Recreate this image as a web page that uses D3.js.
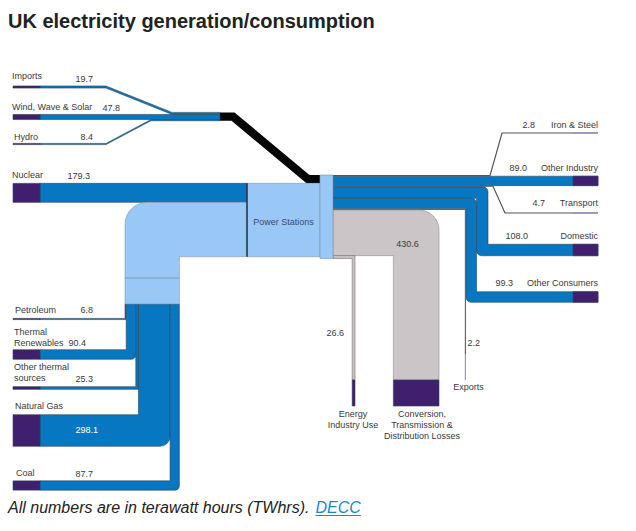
<!DOCTYPE html>
<html>
<head>
<meta charset="utf-8">
<script src="https://d3js.org/d3.v7.min.js"></script>
<style>
  body { margin: 0; background: #fff; }
  svg { display: block; }
</style>
</head>
<body>
<script>
// TWh figures
var sources = ["Imports", "Wind, Wave & Solar", "Hydro", "Nuclear", "Petroleum",
  "Thermal\nRenewables", "Other thermal\nsources", "Natural Gas", "Coal"];
var sourceValues = [19.7, 47.8, 8.4, 179.3, 6.8, 90.4, 25.3, 298.1, 87.7];

var uses = ["Iron & Steel", "Other Industry", "Transport", "Domestic", "Other Consumers",
  "Exports", "Conversion,\nTransmission &\nDistribution Losses", "Energy\nIndustry Use"];
var useValues = [2.8, 89.0, 4.7, 108.0, 99.3, 2.2, 430.6, 26.6];

var C = {
  blue: "#0877c1", purple: "#3f1f6e", lav: "#9c8ecf", light: "#99c8f6",
  grey: "#cbc5c8", edge: "#2f4456", black: "#050505", text: "#3a3a3a"
};

var svg = d3.select("body").append("svg")
  .attr("width", 636).attr("height", 531)
  .style("font-family", "'Liberation Sans', Arial, sans-serif");

// band thickness
var w = d3.scaleLinear().domain([0, 100]).range([0, 10.6]);
function bw(v) { return Math.max(1.2, w(v)); }

// polygon with optional rounded corners [x, y, r]
function roundPoly(pts) {
  var p = d3.path(), n = pts.length;
  p.moveTo((pts[0][0] + pts[1][0]) / 2, (pts[0][1] + pts[1][1]) / 2);
  for (var i = 1; i <= n; i++) {
    var a = pts[i % n], b = pts[(i + 1) % n];
    if (a[2]) p.arcTo(a[0], a[1], b[0], b[1], a[2]);
    else p.lineTo(a[0], a[1]);
  }
  p.closePath();
  return p.toString();
}
function shape(pts, fill, stroke) {
  return svg.append("path").attr("d", roundPoly(pts))
    .attr("fill", fill).attr("stroke", stroke || C.edge).attr("stroke-width", 0.6);
}
// band following a top polyline, thickness t downward
function hband(line, t) {
  var bot = line.map(function(d) { return [d[0], d[1] + t, 0]; }).reverse();
  return line.map(function(d) { return [d[0], d[1], 0]; }).concat(bot);
}
function rect(x0, y0, x1, y1, fill, stroke) {
  return shape([[x0, y0], [x1, y0], [x1, y1], [x0, y1]], fill, stroke);
}
function line(pts, color, width) {
  return svg.append("path").attr("d", d3.line()(pts)).attr("fill", "none")
    .attr("stroke", color).attr("stroke-width", width).attr("stroke-linejoin", "miter");
}
function label(x, y, txt, anchor, color, size) {
  var t = svg.append("text").attr("x", x).attr("y", y)
    .attr("text-anchor", anchor || "start").attr("fill", color || C.text)
    .style("font-size", (size || 9) + "px");
  var lines = txt.split("\n");
  lines.forEach(function(s, i) {
    t.append("tspan").attr("x", x).attr("dy", i ? 11 : -(lines.length - 1) * 11).text(s);
  });
  return t;
}

// layout
var x0 = 13, xP = 40;
var colTop = 175, boxL = 247, boxR = 320, colR = 333, endX = 598, endP = 573;
var sw = sourceValues.map(bw), uw = useValues.map(bw);

// ---- renewables + imports
var windY = 117, joinX = 220;
var windTop = windY - sw[1] / 2;
var rTop = windTop - sw[0];
var wR = sw[0] + sw[1] + sw[2];
var impY = 87, hydY = 144;

shape(hband([[xP, impY - sw[0] / 2], [106, impY - sw[0] / 2], [172, rTop], [joinX, rTop]], sw[0]), C.blue);
shape(hband([[xP, hydY - sw[2] / 2], [106, hydY - sw[2] / 2], [151, windTop + sw[1]], [joinX, windTop + sw[1]]], sw[2]), C.blue);
shape(hband([[xP, windTop], [joinX, windTop]], sw[1]), C.blue);
rect(x0, impY - sw[0] / 2, xP, impY + sw[0] / 2, C.purple);
rect(x0, windTop, xP, windTop + sw[1], C.purple);
rect(x0, hydY - sw[2] / 2, xP, hydY + sw[2] / 2, C.purple);

line([[joinX, rTop + wR / 2], [233, rTop + wR / 2], [308, colTop + wR / 2], [boxR, colTop + wR / 2]], C.black, wR);

// ---- nuclear
var boxTop = colTop + wR;
shape(hband([[xP, boxTop], [boxL, boxTop]], sw[3]), C.blue);
rect(x0, boxTop, xP, boxTop + sw[3], C.purple);

// ---- thermal sources
var thermTop = boxTop + sw[3];
var elbowX = 125, elbowBot = 304, splitY = 278;
var thermRows = [319, 354.5, 388, 430.5, 485.5];
var thermW = d3.sum(sw.slice(4));
var boxBot = thermTop + thermW;
var cx = elbowX;
thermRows.forEach(function(ry, i) {
  var t = sw[4 + i], xL = cx, xR = cx + t, yT = ry - t / 2, yB = ry + t / 2;
  var r = t > 3 ? Math.min(10, t * 0.45) : 0;
  shape([[xP, yT, 0], [xL, yT, 0], [xL, elbowBot, 0], [xR, elbowBot, 0], [xR, yB, r], [xP, yB, 0]], C.blue);
  rect(x0, yT, xP, yB, C.purple);
  cx = xR;
});

// elbow feeding the power stations
shape([[boxL, thermTop, 0], [elbowX, thermTop, 22], [elbowX, elbowBot, 0],
  [elbowX + thermW, elbowBot, 0], [elbowX + thermW, boxBot, 0], [boxL, boxBot, 0]], C.light, "#8196a8");
line([[elbowX, splitY], [elbowX + thermW, splitY]], "#7d93a6", 0.8);

// ---- outputs
var y = colTop, t, yc;
// iron & steel
yc = y + uw[0] / 2; y += uw[0];
var ironPts = [[colR, yc], [490, yc], [502, 133], [endX, 133]];
// other industry
t = uw[1];
shape(hband([[colR, y], [endX, y]], t), C.blue);
rect(endP, y, endX, y + t, C.purple);
y += t;
line(ironPts, "#555", uw[0]);
line([[endP, 133], [endX, 133]], C.lav, uw[0]);
// transport
yc = y + uw[2] / 2; y += uw[2];
line([[colR, yc], [493, yc], [505, 213], [endX, 213]], "#555", uw[2]);
line([[endP, 213], [endX, 213]], C.lav, uw[2]);

// domestic / other consumers
var bendY = [250, 297];
var xRb = 488, xLb;
[3, 4].forEach(function(k, j) {
  t = uw[k];
  var ry = bendY[j], yT = y, yB = y + t, yT2 = ry - t / 2, yB2 = ry + t / 2;
  xLb = xRb - t;
  shape([[colR, yT, 0], [xRb, yT, 5], [xRb, yT2, 0], [endX, yT2, 0], [endX, yB2, 0],
    [xLb, yB2, 5], [xLb, yB, 0], [colR, yB, 0]], C.blue);
  rect(endP, yT2, endX, yB2, C.purple);
  y += t;
  xRb = xLb;
});
// exports along the inside edge
yc = y + uw[5] / 2; y += uw[5];
var xE = xLb - uw[5] / 2;
line([[colR, yc], [xE, yc], [xE, 354]], "#666", uw[5]);
line([[xE, 354], [xE, 380]], C.lav, uw[5]);

// losses
t = uw[6];
var lR = 439, lL = lR - t;
shape([[colR, y, 0], [lR, y, 20], [lR, 380, 0], [lL, 380, 0], [lL, y + t, 0], [colR, y + t, 0]], C.grey, "#8f8a8c");
rect(lL, 380, lR, 406, C.purple);
y += t;
// energy industry use
t = uw[7];
var eR = 355, eL = eR - t;
shape([[colR, y, 0], [eR, y, 0], [eR, 380, 0], [eL, 380, 0], [eL, y + t, 0], [colR, y + t, 0]], C.grey, "#6f6a6c");
rect(eL, 380, eR, 406, C.purple);
y += t;

// ---- power stations
rect(boxL, boxTop, boxR, boxBot, C.light, "#8196a8");
rect(boxR, colTop, colR, Math.max(boxBot, y), C.light, "#8196a8");
line([[boxL, boxTop], [boxL, boxBot]], "#1d2a36", 1.4);
label((boxL + boxR) / 2, 225, "Power Stations", "middle", "#3b4c66", 9);

// ---- labels, left
var srcNameX = [12, 12, 14, 12, 15, 14, 14, 15, 16];
var srcNameY = [79, 110, 140, 178, 313, 346, 381, 409, 476];
var srcValX = [93, 120, 93, 90, 93, 86, 93, 98, 93];
var srcValY = [82, 111, 140, 179, 313, 346, 382, 433, 477];
sources.forEach(function(s, i) {
  label(srcNameX[i], srcNameY[i], s);
  label(srcValX[i], srcValY[i], sourceValues[i].toFixed(1), "end", i === 7 ? "#fff" : C.text);
});

// ---- labels, right
var useNameY = [128, 171, 206, 239, 286];
var useValX = [535, 527, 545, 528, 513];
for (var i = 0; i < 5; i++) {
  label(endX, useNameY[i], uses[i], "end");
  label(useValX[i], useNameY[i], useValues[i].toFixed(1), "end");
}
label(xE + 2, 346, useValues[5].toFixed(1), "start");
label(xE + 3, 390, uses[5], "middle");
label(lL + 3, 247, useValues[6].toFixed(1), "start");
label(422, 439, uses[6], "middle");
label(344, 336, useValues[7].toFixed(1), "end");
label(353, 428, uses[7], "middle");

// ---- title and note
svg.append("text").attr("x", 8).attr("y", 28).attr("fill", "#222")
  .style("font-size", "20px").style("font-weight", "bold")
  .text("UK electricity generation/consumption");

var note = svg.append("text").attr("x", 8).attr("y", 513).attr("fill", "#222")
  .style("font-size", "16px").style("font-style", "italic")
  .text("All numbers are in terawatt hours (TWhrs).");
var nx = 8 + note.node().getComputedTextLength() + 6;
var link = svg.append("text").attr("x", nx).attr("y", 513).attr("fill", "#1b87d3")
  .style("font-size", "16px").style("font-style", "italic").text("DECC");
svg.append("line").attr("x1", nx).attr("x2", nx + link.node().getComputedTextLength())
  .attr("y1", 515.5).attr("y2", 515.5).attr("stroke", "#1b87d3").attr("stroke-width", 1);
</script>
</body>
</html>
